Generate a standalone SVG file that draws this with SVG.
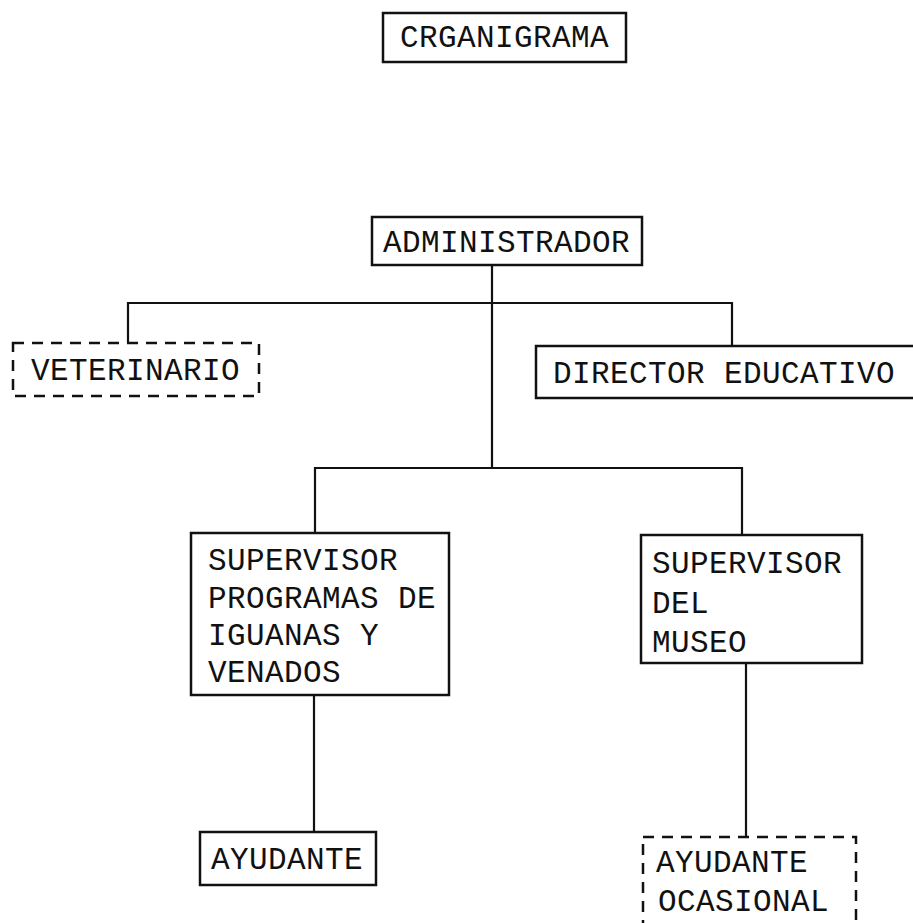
<svg xmlns="http://www.w3.org/2000/svg" width="913" height="923" viewBox="0 0 913 923">
<style>
.box{fill:none;stroke:#111;stroke-width:2.5}
.dash{fill:none;stroke:#111;stroke-width:2.5;stroke-dasharray:11 8}
.ln{fill:none;stroke:#111;stroke-width:2.2}
text{font-family:"Liberation Mono","DejaVu Sans Mono",monospace;font-size:31px;letter-spacing:0.4px;fill:#111}
</style>
<rect width="913" height="923" fill="#fff"/>
<g id="connectors">
<path class="ln" d="M492 265 V468"/>
<path class="ln" d="M128 343 V303 H732 V346"/>
<path class="ln" d="M315 533 V468 H742 V535"/>
<path class="ln" d="M314 695 V832"/>
<path class="ln" d="M746 663 V837"/>
</g>
<g id="title">
<rect class="box" x="383" y="13" width="243" height="49"/>
<text x="400" y="47">CRGANIGRAMA</text>
</g>
<g id="administrador">
<rect class="box" x="372" y="217" width="270" height="48"/>
<text x="383" y="252">ADMINISTRADOR</text>
</g>
<g id="veterinario">
<rect class="dash" x="13" y="343" width="246" height="53"/>
<text x="31" y="380">VETERINARIO</text>
</g>
<g id="director">
<rect class="box" x="536" y="346" width="390" height="52"/>
<text x="553" y="383">DIRECTOR EDUCATIVO</text>
</g>
<g id="supervisor-programas">
<rect class="box" x="191" y="533" width="258" height="162"/>
<text x="208" y="570">SUPERVISOR</text>
<text x="208" y="608">PROGRAMAS DE</text>
<text x="208" y="645">IGUANAS Y</text>
<text x="208" y="682">VENADOS</text>
</g>
<g id="supervisor-museo">
<rect class="box" x="641" y="535" width="221" height="128"/>
<text x="652" y="573">SUPERVISOR</text>
<text x="652" y="613">DEL</text>
<text x="652" y="652">MUSEO</text>
</g>
<g id="ayudante">
<rect class="box" x="200" y="832" width="176" height="53"/>
<text x="211" y="869">AYUDANTE</text>
</g>
<g id="ayudante-ocasional">
<rect class="dash" x="643" y="837" width="213" height="100"/>
<text x="656" y="872">AYUDANTE</text>
<text x="658" y="911">OCASIONAL</text>
</g>
</svg>
